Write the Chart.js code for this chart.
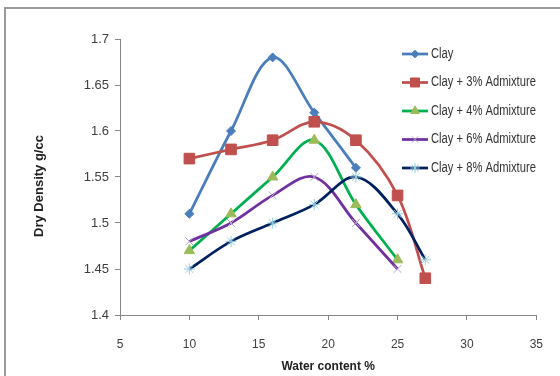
<!DOCTYPE html>
<html>
<head>
<meta charset="utf-8">
<script src="https://cdn.jsdelivr.net/npm/chart.js@4/dist/chart.umd.min.js"></script>
<style>
  html, body { margin: 0; padding: 0; background: #fff; overflow: hidden; }
  #wrap { position: relative; width: 560px; height: 376px; }
  #frame { position: absolute; left: 4px; top: 7px; width: 600px; height: 400px;
           border-left: 2px solid #9a9a9a; border-top: 2px solid #9a9a9a; }
  canvas { position: absolute; left: 0; top: 0; }
</style>
</head>
<body>
<div id="wrap">
  <div id="frame"></div>
  <canvas id="densityGraph" width="560" height="376"></canvas>
</div>
<script>
// water content (%) for each test run
var waterClay = [10, 13, 16, 19, 22];
var waterLong = [10, 13, 16, 19, 22, 25, 27];
var waterMid = [10, 13, 16, 19, 22, 25];

// dry density (g/cc)
var densityClay = [1.51, 1.60, 1.68, 1.62, 1.56];
var density3 = [1.57, 1.58, 1.59, 1.61, 1.59, 1.53, 1.44];
var density4 = [1.47, 1.51, 1.55, 1.59, 1.52, 1.46];
var density6 = [1.48, 1.50, 1.53, 1.55, 1.50, 1.45];
var density8 = [1.45, 1.48, 1.50, 1.52, 1.55, 1.51, 1.46];

var seriesNames = ['Clay', 'Clay + 3% Admixture', 'Clay + 4% Admixture', 'Clay + 6% Admixture', 'Clay + 8% Admixture'];

var xTicks = [5, 10, 15, 20, 25, 30, 35];
var yTicks = [1.4, 1.45, 1.5, 1.55, 1.6, 1.65, 1.7];

function pts(xs, ys) {
    var out = [];
    for (var i = 0; i < xs.length; i++) {
        out.push({x: xs[i], y: ys[i]});
    }
    return out;
}

function series(i, xs, ys, line, fill, edge, style, r) {
    return {
        label: seriesNames[i],
        data: pts(xs, ys),
        borderColor: line,
        borderWidth: 2.75,
        pointStyle: style,
        pointRadius: r,
        pointHoverRadius: r,
        pointBackgroundColor: fill,
        pointBorderColor: edge,
        pointBorderWidth: 1,
        tension: 0.35,
        fill: false,
        order: 5 - i
    };
}

var datasets = [
    series(0, waterClay, densityClay, '#4a7ebb', '#4a7ebb', '#4a7ebb', 'rectRot', 4.5),
    series(1, waterLong, density3, '#c0504d', '#c0504d', '#c0504d', 'rect', 7.5),
    series(2, waterMid, density4, '#00b050', '#9bbb59', '#9bbb59', 'triangle', 6),
    series(3, waterMid, density6, '#7030a0', '#b3a2c7', '#b3a2c7', 'crossRot', 5.5),
    series(4, waterLong, density8, '#002060', '#93cddd', '#93cddd', 'star', 5.5)
];

// legend + y title drawn by hand so the plot can run under the legend
var extras = {
    id: 'extras',
    afterDraw: function(chart) {
        var ctx = chart.ctx;
        var ds = chart.data.datasets;
        for (var i = 0; i < ds.length; i++) {
            var y = 54 + i * 28.5;
            ctx.save();
            ctx.strokeStyle = ds[i].borderColor;
            ctx.lineWidth = ds[i].borderWidth;
            ctx.beginPath();
            ctx.moveTo(402, y);
            ctx.lineTo(428, y);
            ctx.stroke();
            ctx.fillStyle = ds[i].pointBackgroundColor;
            ctx.strokeStyle = ds[i].pointBorderColor;
            ctx.lineWidth = 1;
            Chart.helpers.drawPoint(ctx, {
                pointStyle: ds[i].pointStyle,
                radius: ds[i].pointRadius * 0.85,
                borderWidth: 1,
                rotation: 0
            }, 415, y);
            // condensed label, the original font is a narrow one
            ctx.translate(431, y);
            ctx.scale(0.8, 1);
            ctx.fillStyle = '#333';
            ctx.font = '14px "Liberation Sans", sans-serif';
            ctx.textAlign = 'left';
            ctx.textBaseline = 'middle';
            ctx.fillText(ds[i].label, 0, 0);
            ctx.restore();
        }
        ctx.save();
        ctx.translate(39, 186);
        ctx.rotate(-Math.PI / 2);
        ctx.fillStyle = '#222';
        ctx.font = 'bold 13px "Liberation Sans", sans-serif';
        ctx.textAlign = 'center';
        ctx.textBaseline = 'middle';
        ctx.fillText('Dry Density g/cc', 0, 0);
        ctx.restore();
    }
};

var ctx1 = document.getElementById('densityGraph').getContext('2d');
var densityGraph = new Chart(ctx1, {
    type: 'line',
    data: { datasets: datasets },
    plugins: [extras],
    options: {
        responsive: false,
        animation: false,
        layout: { padding: { left: 0, right: 10, top: 39, bottom: 0 } },
        plugins: {
            legend: { display: false },
            tooltip: { enabled: false }
        },
        scales: {
            x: {
                type: 'linear',
                min: xTicks[0],
                max: xTicks[xTicks.length - 1],
                afterBuildTicks: function(axis) {
                    axis.ticks = xTicks.map(function(v) { return {value: v}; });
                },
                afterFit: function(axis) { axis.height = 61; },
                grid: { drawOnChartArea: false, drawTicks: true, tickLength: 5, color: '#868686' },
                border: { color: '#868686', width: 1 },
                ticks: {
                    padding: 17,
                    color: '#404040',
                    font: { family: '"Liberation Sans", sans-serif', size: 12 }
                },
                title: {
                    display: true,
                    text: 'Water content %',
                    color: '#222',
                    padding: { top: 0, bottom: 2 },
                    font: { family: '"Liberation Sans", sans-serif', size: 12, weight: 'bold' }
                }
            },
            y: {
                type: 'linear',
                min: yTicks[0],
                max: yTicks[yTicks.length - 1],
                afterBuildTicks: function(axis) {
                    axis.ticks = yTicks.map(function(v) { return {value: v}; });
                },
                afterFit: function(axis) { axis.width = 120; },
                grid: { drawOnChartArea: false, drawTicks: true, tickLength: 5, color: '#868686' },
                border: { color: '#868686', width: 1 },
                ticks: {
                    padding: 6,
                    color: '#404040',
                    font: { family: '"Liberation Sans", sans-serif', size: 13 },
                    callback: function(v) { return String(Number(v.toFixed(2))); }
                }
            }
        }
    }
});
</script>
</body>
</html>
